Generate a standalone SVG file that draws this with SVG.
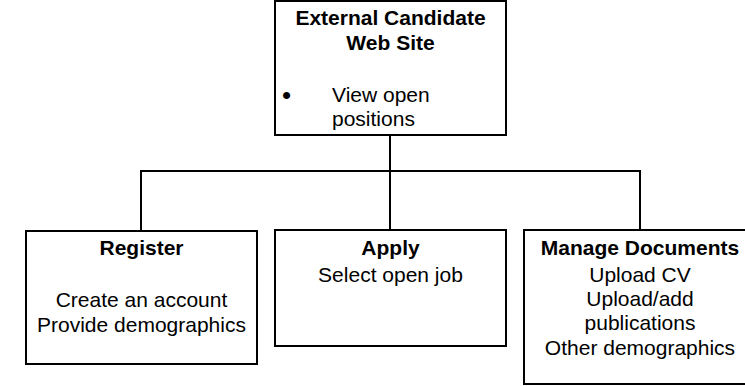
<svg xmlns="http://www.w3.org/2000/svg" width="745" height="386" viewBox="0 0 745 386">
<style>
.box{fill:#fff;stroke:#000;stroke-width:2}
.conn{fill:none;stroke:#000;stroke-width:2}
text{font-family:"Liberation Sans",Arial,sans-serif;font-size:21px;fill:#000}
.b{font-weight:bold}
.c{text-anchor:middle}
.bul{font-size:26px}
</style>
<rect width="745" height="386" fill="#fff"/>
<g id="connectors">
<path class="conn" d="M390,135 V171 M141,231 V171 H640 V230 M390,171 V230"/>
</g>
<g id="top">
<rect class="box" x="275" y="1" width="231" height="134"/>
<text class="b c" x="390.5" y="25">External Candidate</text>
<text class="b c" x="390.5" y="50">Web Site</text>
<text class="bul" x="282" y="104">•</text>
<text x="332" y="102">View open</text>
<text x="332" y="126">positions</text>
</g>
<g id="register">
<rect class="box" x="26" y="231" width="231" height="133"/>
<text class="b c" x="141.5" y="255">Register</text>
<text class="c" x="141.5" y="307">Create an account</text>
<text class="c" x="141.5" y="332">Provide demographics</text>
</g>
<g id="apply">
<rect class="box" x="275" y="230" width="231" height="116"/>
<text class="b c" x="390.5" y="255">Apply</text>
<text class="c" x="390.5" y="282">Select open job</text>
</g>
<g id="manage">
<rect class="box" x="524" y="230" width="233" height="154"/>
<text class="b c" x="640" y="255">Manage Documents</text>
<text class="c" x="640" y="282">Upload CV</text>
<text class="c" x="640" y="306">Upload/add</text>
<text class="c" x="640" y="330">publications</text>
<text class="c" x="640" y="355">Other demographics</text>
</g>
</svg>
